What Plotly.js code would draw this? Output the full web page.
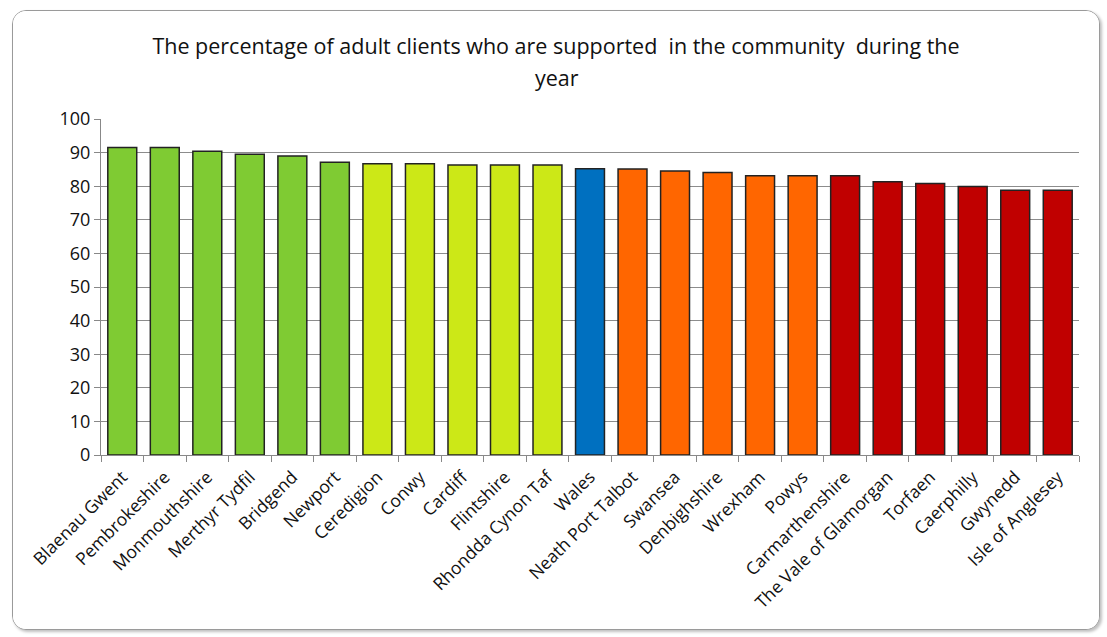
<!DOCTYPE html>
<html>
<head>
<meta charset="utf-8">
<script src="https://cdn.plot.ly/plotly-3.0.1.min.js"></script>
<style>
  html, body { margin: 0; padding: 0; background: #fff; }
  #box {
    position: absolute; left: 12px; top: 10px; width: 1086px; height: 618px;
    border: 1px solid #9a9a9a; border-radius: 14px;
    box-shadow: 2px 2px 3px rgba(0,0,0,0.25);
    overflow: hidden; background: #fff;
  }
  #chart { width: 1086px; height: 618px; }
</style>
</head>
<body>
<div id="box"><div id="chart"></div></div>
<script>
const categories = ["Blaenau Gwent","Pembrokeshire","Monmouthshire","Merthyr Tydfil","Bridgend","Newport",
  "Ceredigion","Conwy","Cardiff","Flintshire","Rhondda Cynon Taf","Wales","Neath Port Talbot","Swansea",
  "Denbighshire","Wrexham","Powys","Carmarthenshire","The Vale of Glamorgan","Torfaen","Caerphilly","Gwynedd","Isle of Anglesey"];
const values = [91.5,91.5,90.4,89.5,89.0,87.1,86.7,86.7,86.3,86.3,86.3,85.2,85.1,84.5,84.1,83.1,83.1,83.1,81.3,80.8,79.9,78.8,78.8];
const groups = ["top","top","top","top","top","top","upper","upper","upper","upper","upper","wales",
  "lower","lower","lower","lower","lower","bottom","bottom","bottom","bottom","bottom","bottom"];
const groupColors = {top:"#7FCB33", upper:"#CCE817", wales:"#0070C0", lower:"#FF6600", bottom:"#C00000"};
const yTicks = [0,10,20,30,40,50,60,70,80,90,100];
const titleLine1 = "The percentage of adult clients who are supported  in the community  during the";
const titleLine2 = "year";

const trace = {
  type: "bar",
  x: categories,
  y: values,
  marker: { color: groups.map(g => groupColors[g]), line: { color: "#222", width: 1.5 } },
  hoverinfo: "x+y"
};

const layout = {
  width: 1086, height: 618,
  margin: { l: 88, r: 20, t: 108, b: 174 },
  paper_bgcolor: "#fff", plot_bgcolor: "#fff",
  bargap: 0.32,
  font: { family: "Open Sans, DejaVu Sans, sans-serif", color: "#222" },
  title: {
    text: titleLine1,
    font: { size: 21.5, family: "Open Sans, sans-serif", color: "#111" },
    x: 0.5, xref: "container", xanchor: "center",
    y: 1 - 35 / 618, yref: "container", yanchor: "middle"
  },
  annotations: [{
    text: titleLine2, showarrow: false,
    xref: "paper", yref: "paper",
    x: (544 - 88) / (1086 - 108), xanchor: "center",
    y: 1 + (108 - 66) / (618 - 108 - 174), yanchor: "middle",
    font: { size: 21.5, family: "Open Sans, sans-serif", color: "#111" }
  }],
  xaxis: {
    type: "category",
    tickangle: -45,
    tickson: "boundaries",
    ticks: "outside", ticklen: 6, tickcolor: "#888",
    showline: true, linecolor: "#888", linewidth: 1,
    tickfont: { size: 17.5, color: "#111" },
    ticklabelstandoff: 4,
    showgrid: false
  },
  yaxis: {
    range: [0, 100],
    tickvals: yTicks,
    ticks: "outside", ticklen: 6, tickcolor: "#888",
    showline: true, linecolor: "#888", linewidth: 1,
    showgrid: true, gridcolor: "#8c8c8c", gridwidth: 1,
    zeroline: false,
    tickfont: { size: 18, color: "#111" }
  },
  showlegend: false
};

Plotly.newPlot("chart", [trace], layout, { displayModeBar: false, staticPlot: true });
</script>
</body>
</html>
